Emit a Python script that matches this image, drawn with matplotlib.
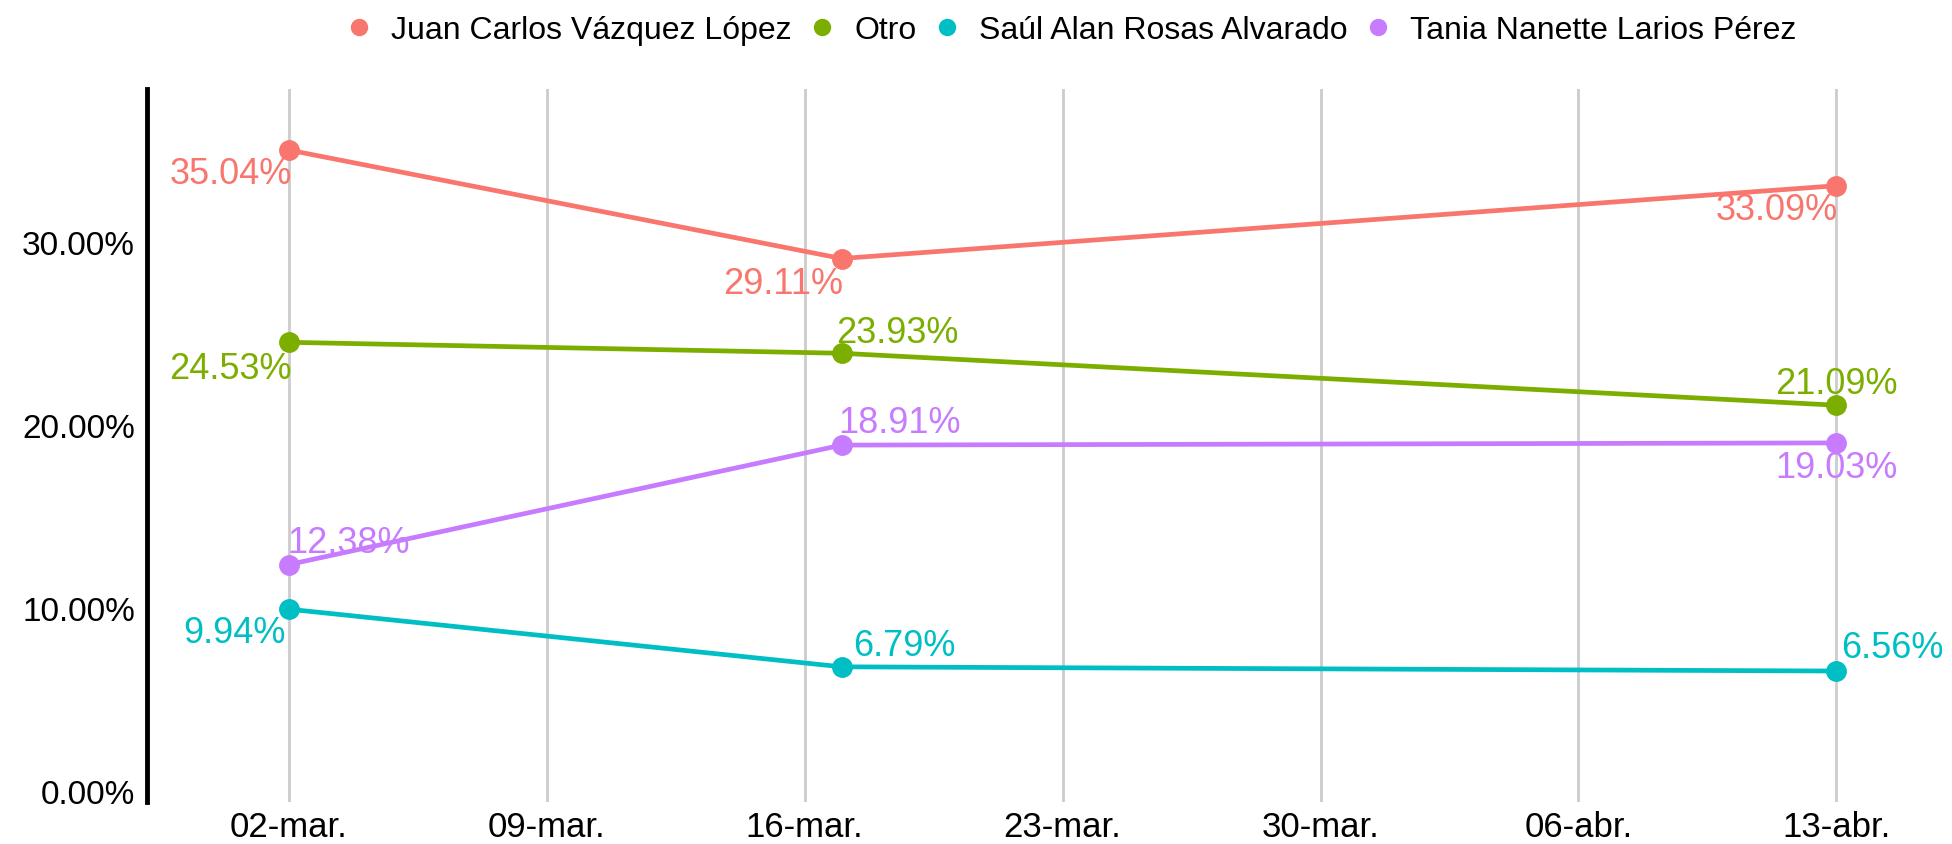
import matplotlib
matplotlib.use("Agg")
import matplotlib.pyplot as plt
import matplotlib.dates as mdates
from datetime import date

plt.rcParams['font.family'] = ['Liberation Sans', 'DejaVu Sans']

# data
fechas = [date(2024, 3, 2), date(2024, 3, 17), date(2024, 4, 13)]
candidatos = ["Juan Carlos Vázquez López", "Otro", "Saúl Alan Rosas Alvarado",
              "Tania Nanette Larios Pérez"]
juan = [35.04, 29.11, 33.09]
otro = [24.53, 23.93, 21.09]
saul = [9.94, 6.79, 6.56]
tania = [12.38, 18.91, 19.03]
tick_fechas = [date(2024, 3, 2), date(2024, 3, 9), date(2024, 3, 16), date(2024, 3, 23),
               date(2024, 3, 30), date(2024, 4, 6), date(2024, 4, 13)]
tick_labels = ["02-mar.", "09-mar.", "16-mar.", "23-mar.", "30-mar.", "06-abr.", "13-abr."]
y_ticks = [0, 10, 20, 30]

colores = ["#F8766D", "#7CAE00", "#00BFC4", "#C77CFF"]
# label offsets (points) for each series/point, like ggrepel placed them
offsets = [
    [(-42, -17), (-42, -18), (-43, -17)],
    [(-42, -19), (40, 15), (0, 16)],
    [(-39, -17), (45, 15), (40, 17)],
    [(43, 16), (42, 16), (0, -18)],
]

fig = plt.figure(figsize=(19.52, 8.45), dpi=100)
ax = fig.add_axes([0.0753, 0.0497, 0.91, 0.8443])

x = [mdates.date2num(f) for f in fechas]
series = [juan, otro, saul, tania]
for nombre, vals, col, offs in zip(candidatos, series, colores, offsets):
    ax.plot(x, vals, color=col, lw=3.4, marker='o', ms=14, label=nombre, zorder=3)
    for xi, v, (dx, dy) in zip(x, vals, offs):
        ax.annotate(f"{v:.2f}%", (xi, v), xytext=(dx, dy),
                    textcoords='offset points', ha='center', va='center',
                    color=col, fontsize=26, zorder=4)

ax.set_xlim(x[0] - 3.85, x[-1] + 2.36)
ax.set_ylim(-0.6, 38.4)
ax.set_xticks([mdates.date2num(d) for d in tick_fechas])
ax.set_xticklabels(tick_labels, fontsize=25)
ax.set_yticks(y_ticks)
ax.set_yticklabels([f"{t:.2f}%" for t in y_ticks], fontsize=24)
ax.tick_params(axis='both', length=0)
ax.tick_params(axis='y', pad=8.5)
ax.tick_params(axis='x', pad=6)
ax.grid(axis='x', color='#cccccc', lw=2, zorder=0)
ax.grid(axis='y', visible=False)
for s in ['top', 'right', 'bottom']:
    ax.spines[s].set_visible(False)
ax.spines['left'].set_linewidth(3.5)
ax.spines['left'].set_color('black')

handles = [plt.Line2D([], [], color=c, marker='o', ls='', ms=11.5) for c in colores]
fig.legend(handles, candidatos, loc='center', bbox_to_anchor=(0.55, 0.963), ncol=4,
           frameon=False, fontsize=23, handlelength=0.5, handletextpad=0.75,
           columnspacing=0.7, borderaxespad=0)

fig.savefig("out.png", dpi=100)
